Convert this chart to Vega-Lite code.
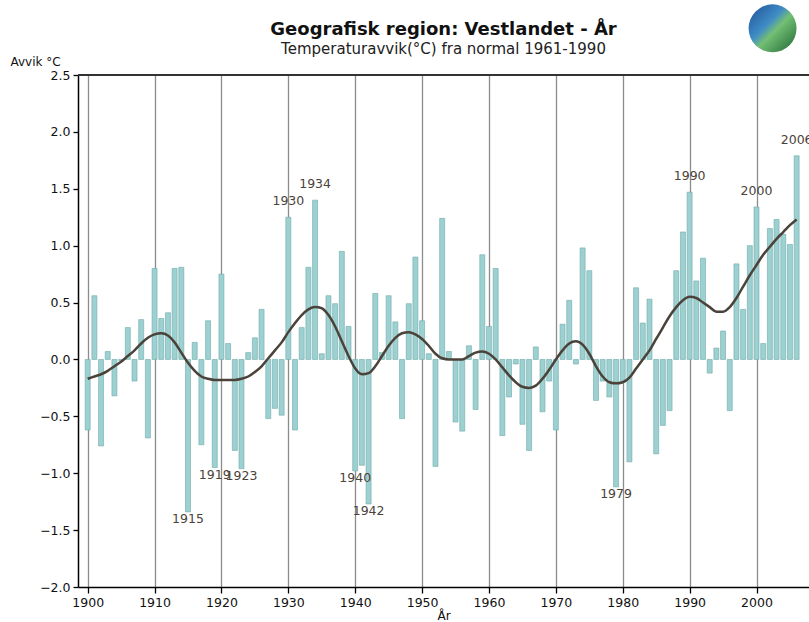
{
  "$schema": "https://vega.github.io/schema/vega-lite/v6.json",
  "width": 731,
  "height": 512,
  "autosize": {"type": "none"},
  "padding": {"left": 78, "top": 75, "right": 0, "bottom": 35},
  "background": "white",
  "title": {
    "text": "Geografisk region: Vestlandet - År",
    "subtitle": "Temperaturavvik(°C) fra normal 1961-1990",
    "anchor": "middle",
    "font": "DejaVu Sans",
    "fontSize": 18,
    "fontWeight": "bold",
    "color": "#111111",
    "subtitleFont": "DejaVu Sans",
    "subtitleFontSize": 15,
    "subtitleColor": "#222222",
    "subtitlePadding": 3,
    "offset": -53
  },
  "config": {
    "view": {"stroke": null},
    "axis": {"labelFont": "DejaVu Sans", "titleFont": "DejaVu Sans", "labelColor": "#111111", "titleColor": "#111111"}
  },
  "data": {
    "values": [
      {"year": 1900, "avvik": -0.62, "trend": -0.17},
      {"year": 1901, "avvik": 0.56, "trend": -0.15},
      {"year": 1902, "avvik": -0.76, "trend": -0.13},
      {"year": 1903, "avvik": 0.07, "trend": -0.10},
      {"year": 1904, "avvik": -0.32, "trend": -0.06},
      {"year": 1905, "avvik": -0.01, "trend": -0.02},
      {"year": 1906, "avvik": 0.28, "trend": 0.03},
      {"year": 1907, "avvik": -0.19, "trend": 0.08},
      {"year": 1908, "avvik": 0.35, "trend": 0.14},
      {"year": 1909, "avvik": -0.69, "trend": 0.19},
      {"year": 1910, "avvik": 0.80, "trend": 0.22},
      {"year": 1911, "avvik": 0.36, "trend": 0.23},
      {"year": 1912, "avvik": 0.41, "trend": 0.21},
      {"year": 1913, "avvik": 0.80, "trend": 0.15},
      {"year": 1914, "avvik": 0.81, "trend": 0.06},
      {"year": 1915, "avvik": -1.34, "trend": -0.03},
      {"year": 1916, "avvik": 0.15, "trend": -0.10},
      {"year": 1917, "avvik": -0.75, "trend": -0.15},
      {"year": 1918, "avvik": 0.34, "trend": -0.17},
      {"year": 1919, "avvik": -0.95, "trend": -0.18},
      {"year": 1920, "avvik": 0.75, "trend": -0.18},
      {"year": 1921, "avvik": 0.14, "trend": -0.18},
      {"year": 1922, "avvik": -0.80, "trend": -0.18},
      {"year": 1923, "avvik": -0.96, "trend": -0.17},
      {"year": 1924, "avvik": 0.06, "trend": -0.15},
      {"year": 1925, "avvik": 0.19, "trend": -0.11},
      {"year": 1926, "avvik": 0.44, "trend": -0.06},
      {"year": 1927, "avvik": -0.52, "trend": 0.01},
      {"year": 1928, "avvik": -0.43, "trend": 0.08},
      {"year": 1929, "avvik": -0.49, "trend": 0.15},
      {"year": 1930, "avvik": 1.25, "trend": 0.24},
      {"year": 1931, "avvik": -0.62, "trend": 0.32},
      {"year": 1932, "avvik": 0.28, "trend": 0.39},
      {"year": 1933, "avvik": 0.81, "trend": 0.44},
      {"year": 1934, "avvik": 1.40, "trend": 0.46},
      {"year": 1935, "avvik": 0.05, "trend": 0.45},
      {"year": 1936, "avvik": 0.56, "trend": 0.39},
      {"year": 1937, "avvik": 0.49, "trend": 0.29},
      {"year": 1938, "avvik": 0.95, "trend": 0.16},
      {"year": 1939, "avvik": 0.29, "trend": 0.03},
      {"year": 1940, "avvik": -0.98, "trend": -0.08},
      {"year": 1941, "avvik": -0.93, "trend": -0.13},
      {"year": 1942, "avvik": -1.27, "trend": -0.12},
      {"year": 1943, "avvik": 0.58, "trend": -0.06},
      {"year": 1944, "avvik": 0.06, "trend": 0.03},
      {"year": 1945, "avvik": 0.56, "trend": 0.12},
      {"year": 1946, "avvik": 0.33, "trend": 0.19},
      {"year": 1947, "avvik": -0.52, "trend": 0.23},
      {"year": 1948, "avvik": 0.49, "trend": 0.24},
      {"year": 1949, "avvik": 0.90, "trend": 0.22},
      {"year": 1950, "avvik": 0.34, "trend": 0.18},
      {"year": 1951, "avvik": 0.05, "trend": 0.12},
      {"year": 1952, "avvik": -0.94, "trend": 0.05},
      {"year": 1953, "avvik": 1.24, "trend": 0.01},
      {"year": 1954, "avvik": 0.07, "trend": 0.00},
      {"year": 1955, "avvik": -0.55, "trend": 0.00},
      {"year": 1956, "avvik": -0.63, "trend": 0.00},
      {"year": 1957, "avvik": 0.12, "trend": 0.03},
      {"year": 1958, "avvik": -0.44, "trend": 0.06},
      {"year": 1959, "avvik": 0.92, "trend": 0.07},
      {"year": 1960, "avvik": 0.29, "trend": 0.05},
      {"year": 1961, "avvik": 0.80, "trend": 0.00},
      {"year": 1962, "avvik": -0.67, "trend": -0.07},
      {"year": 1963, "avvik": -0.33, "trend": -0.14},
      {"year": 1964, "avvik": -0.04, "trend": -0.20},
      {"year": 1965, "avvik": -0.57, "trend": -0.24},
      {"year": 1966, "avvik": -0.80, "trend": -0.25},
      {"year": 1967, "avvik": 0.11, "trend": -0.23},
      {"year": 1968, "avvik": -0.46, "trend": -0.17},
      {"year": 1969, "avvik": -0.19, "trend": -0.09},
      {"year": 1970, "avvik": -0.62, "trend": 0.00},
      {"year": 1971, "avvik": 0.31, "trend": 0.08},
      {"year": 1972, "avvik": 0.52, "trend": 0.14},
      {"year": 1973, "avvik": -0.04, "trend": 0.16},
      {"year": 1974, "avvik": 0.98, "trend": 0.13},
      {"year": 1975, "avvik": 0.78, "trend": 0.05},
      {"year": 1976, "avvik": -0.36, "trend": -0.06},
      {"year": 1977, "avvik": -0.19, "trend": -0.15},
      {"year": 1978, "avvik": -0.33, "trend": -0.20},
      {"year": 1979, "avvik": -1.12, "trend": -0.21},
      {"year": 1980, "avvik": -0.20, "trend": -0.20},
      {"year": 1981, "avvik": -0.90, "trend": -0.16},
      {"year": 1982, "avvik": 0.63, "trend": -0.08},
      {"year": 1983, "avvik": 0.32, "trend": 0.00},
      {"year": 1984, "avvik": 0.53, "trend": 0.08},
      {"year": 1985, "avvik": -0.83, "trend": 0.18},
      {"year": 1986, "avvik": -0.58, "trend": 0.28},
      {"year": 1987, "avvik": -0.45, "trend": 0.38},
      {"year": 1988, "avvik": 0.78, "trend": 0.46},
      {"year": 1989, "avvik": 1.12, "trend": 0.52},
      {"year": 1990, "avvik": 1.47, "trend": 0.55},
      {"year": 1991, "avvik": 0.69, "trend": 0.54},
      {"year": 1992, "avvik": 0.89, "trend": 0.50},
      {"year": 1993, "avvik": -0.12, "trend": 0.46},
      {"year": 1994, "avvik": 0.10, "trend": 0.42},
      {"year": 1995, "avvik": 0.25, "trend": 0.42},
      {"year": 1996, "avvik": -0.45, "trend": 0.46},
      {"year": 1997, "avvik": 0.84, "trend": 0.54},
      {"year": 1998, "avvik": 0.44, "trend": 0.64},
      {"year": 1999, "avvik": 1.00, "trend": 0.74},
      {"year": 2000, "avvik": 1.34, "trend": 0.83},
      {"year": 2001, "avvik": 0.14, "trend": 0.92},
      {"year": 2002, "avvik": 1.15, "trend": 0.99},
      {"year": 2003, "avvik": 1.23, "trend": 1.06},
      {"year": 2004, "avvik": 1.10, "trend": 1.12},
      {"year": 2005, "avvik": 1.01, "trend": 1.18},
      {"year": 2006, "avvik": 1.79, "trend": 1.23}
    ]
  },
  "layer": [
    {
      "mark": {"type": "bar", "width": 5, "fill": "#9dd1d1", "stroke": "#6fa9a9", "strokeWidth": 0.6},
      "encoding": {
        "x": {
          "field": "year", "type": "quantitative",
          "scale": {"domain": [1899.3, 2007.1], "nice": false, "zero": false},
          "axis": {
            "values": [1900, 1905, 1910, 1915, 1920, 1925, 1930, 1935, 1940, 1945, 1950, 1955, 1960, 1965, 1970, 1975, 1980, 1985, 1990, 1995, 2000, 2005],
            "format": "d",
            "labelExpr": "datum.value % 10 == 0 ? datum.label : ''",
            "title": "År",
            "titleFontSize": 12,
            "titleFontWeight": "normal",
            "titlePadding": 2,
            "labelFontSize": 12.5,
            "labelPadding": 3,
            "grid": true,
            "gridColor": "#8c8c8c",
            "gridWidth": 1.3,
            "tickColor": "#000000",
            "tickSize": 6,
            "tickWidth": 1.3,
            "domainColor": "#000000",
            "domainWidth": 1.5
          }
        },
        "y": {
          "field": "avvik", "type": "quantitative",
          "scale": {"domain": [-2, 2.5], "nice": false},
          "axis": {
            "values": [-2, -1.5, -1, -0.5, 0, 0.5, 1, 1.5, 2, 2.5],
            "format": ".1f",
            "grid": false,
            "title": "Avvik °C",
            "titleAngle": 0,
            "titleAlign": "left",
            "titleBaseline": "alphabetic",
            "titleX": -68,
            "titleY": -10,
            "titleFontSize": 12,
            "titleFontWeight": "normal",
            "labelFontSize": 12.5,
            "labelPadding": 3,
            "tickColor": "#000000",
            "tickSize": 5,
            "tickWidth": 1.3,
            "domainColor": "#000000",
            "domainWidth": 1.5
          }
        },
        "y2": {"datum": 0}
      }
    },
    {
      "mark": {"type": "line", "color": "#4b4239", "strokeWidth": 2.5, "interpolate": "monotone"},
      "encoding": {
        "x": {"field": "year", "type": "quantitative"},
        "y": {"field": "trend", "type": "quantitative"}
      }
    },
    {
      "transform": [{"filter": {"field": "year", "oneOf": [1915, 1919, 1923, 1940, 1942, 1979]}}],
      "mark": {"type": "text", "baseline": "top", "dy": 1, "fontSize": 12.5, "font": "DejaVu Sans", "color": "#4b4239"},
      "encoding": {
        "x": {"field": "year", "type": "quantitative"},
        "y": {"field": "avvik", "type": "quantitative"},
        "text": {"field": "year", "type": "quantitative", "format": "d"}
      }
    },
    {
      "transform": [{"filter": {"field": "year", "oneOf": [1930, 1934, 1990, 2000, 2006]}}],
      "mark": {"type": "text", "baseline": "bottom", "dy": -9, "fontSize": 12.5, "font": "DejaVu Sans", "color": "#4b4239"},
      "encoding": {
        "x": {"field": "year", "type": "quantitative"},
        "y": {"field": "avvik", "type": "quantitative"},
        "text": {"field": "year", "type": "quantitative", "format": "d"}
      }
    },
    {
      "mark": {"type": "rule", "color": "#333333", "strokeWidth": 1.5},
      "encoding": {"y": {"datum": 2.5}}
    },
    {
      "data": {"values": [{"logo": "met"}]},
      "mark": {"type": "point", "shape": "circle", "filled": true, "size": 2300, "opacity": 1, "clip": false,
        "fill": {"gradient": "linear", "x1": 0, "y1": 0, "x2": 1, "y2": 1, "stops": [
          {"offset": 0, "color": "#1f4f96"},
          {"offset": 0.4, "color": "#3f8cc6"},
          {"offset": 0.55, "color": "#74bf74"},
          {"offset": 1, "color": "#1a6532"}
        ]}},
      "encoding": {"x": {"datum": 2002.4}, "y": {"datum": 2.91}}
    }
  ]
}
